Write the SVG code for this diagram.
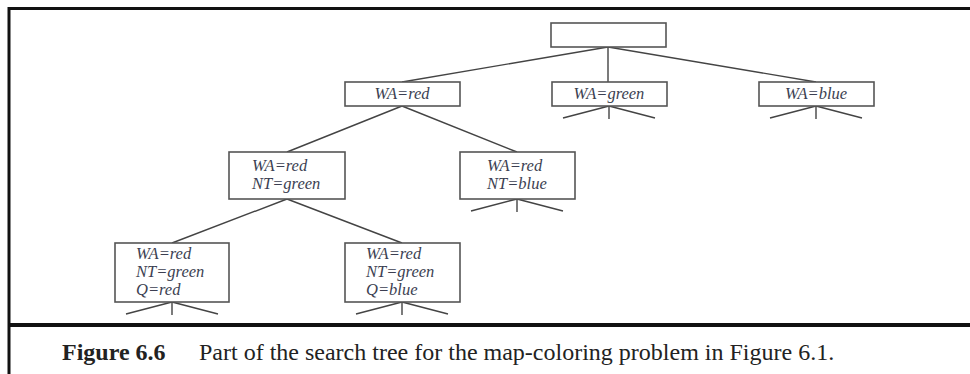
<svg xmlns="http://www.w3.org/2000/svg" width="970" height="374" viewBox="0 0 970 374">
  <style>
    .box { fill: #ffffff; stroke: #555555; stroke-width: 1.6; }
    .edge { stroke: #444444; stroke-width: 1.4; fill: none; }
    .lbl { font-family: "Liberation Serif", "Times New Roman", serif; font-style: italic; font-size: 16.5px; fill: #3c3f52; }
    .cap { font-family: "Liberation Serif", "Times New Roman", serif; font-size: 24px; fill: #222222; }
    .frame { stroke: #111111; fill: none; }
  </style>
  <defs>
    <!-- three-way stub for an unexpanded subtree, origin at box bottom centre -->
    <g id="stub">
      <path class="edge" d="M0,0 L-46,12 M0,0 L0,13 M0,0 L46,12"/>
    </g>
  </defs>
  <rect width="970" height="374" fill="#ffffff"/>

  <!-- frame -->
  <g id="frame">
    <path class="frame" stroke-width="3" d="M9,374 L9,8.5 L970,8.5"/>
    <path class="frame" stroke-width="4" d="M9,325 L970,325"/>
  </g>

  <!-- connectors -->
  <g id="connectors">
    <path class="edge" d="M608,47 L402,82 M608,47 L608,82 M608,47 L816,82"/>
    <path class="edge" d="M402,106 L287,152 M402,106 L517,152"/>
    <path class="edge" d="M287,199 L172,243 M287,199 L402,243"/>
    <use href="#stub" x="609" y="106"/>
    <use href="#stub" x="816" y="106"/>
    <use href="#stub" x="517" y="199"/>
    <use href="#stub" x="172" y="302"/>
    <use href="#stub" x="402" y="302"/>
  </g>

  <g id="root">
    <rect class="box" x="551" y="23" width="115" height="24"/>
  </g>
  <g id="wa-red">
    <rect class="box" x="345" y="82" width="115" height="24"/>
    <text class="lbl" x="402" y="99" text-anchor="middle">WA=red</text>
  </g>
  <g id="wa-green">
    <rect class="box" x="552" y="82" width="115" height="24"/>
    <text class="lbl" x="609" y="99" text-anchor="middle">WA=green</text>
  </g>
  <g id="wa-blue">
    <rect class="box" x="759" y="82" width="115" height="24"/>
    <text class="lbl" x="816" y="99" text-anchor="middle">WA=blue</text>
  </g>
  <g id="wa-red-nt-green">
    <rect class="box" x="229" y="152" width="116" height="47"/>
    <text class="lbl" x="252" y="171">WA=red</text>
    <text class="lbl" x="252" y="189">NT=green</text>
  </g>
  <g id="wa-red-nt-blue">
    <rect class="box" x="460" y="152" width="115" height="47"/>
    <text class="lbl" x="487" y="171">WA=red</text>
    <text class="lbl" x="487" y="189">NT=blue</text>
  </g>
  <g id="q-red">
    <rect class="box" x="115" y="243" width="114" height="59"/>
    <text class="lbl" x="136" y="259">WA=red</text>
    <text class="lbl" x="136" y="277">NT=green</text>
    <text class="lbl" x="136" y="295">Q=red</text>
  </g>
  <g id="q-blue">
    <rect class="box" x="345" y="243" width="115" height="59"/>
    <text class="lbl" x="366" y="259">WA=red</text>
    <text class="lbl" x="366" y="277">NT=green</text>
    <text class="lbl" x="366" y="295">Q=blue</text>
  </g>

  <!-- caption -->
  <g id="caption">
    <text class="cap" x="62" y="359.5" font-weight="bold">Figure 6.6</text>
    <text class="cap" x="199" y="359.5">Part of the search tree for the map-coloring problem in Figure 6.1.</text>
  </g>
</svg>
